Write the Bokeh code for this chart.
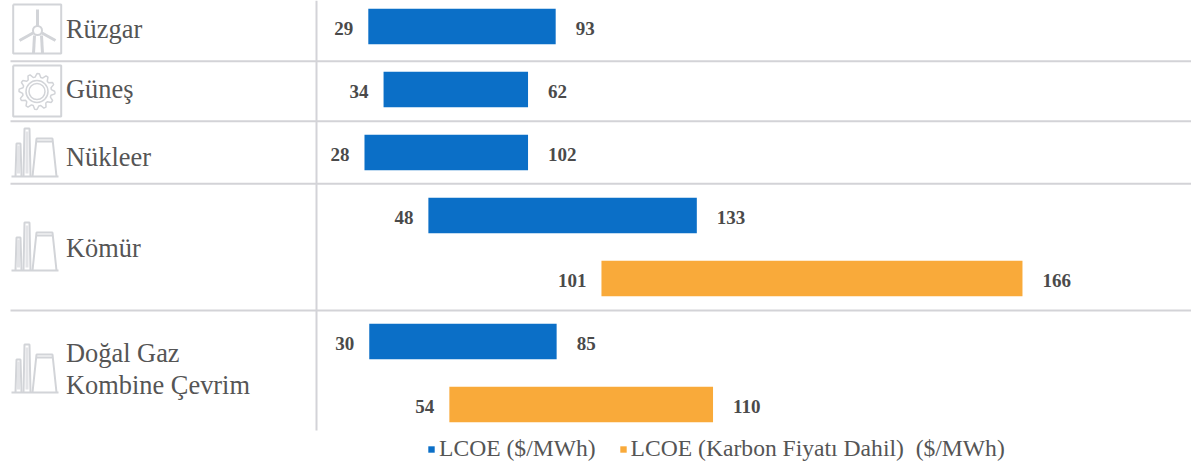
from bokeh.embed import file_html
from bokeh.resources import INLINE
from bokeh.plotting import figure
from bokeh.models import ColumnDataSource, Range1d, Legend, LegendItem
from bokeh.core.properties import value
import numpy as np

# Value labels printed on the chart
row_pos = [0, 1, 2, 3, 4, 5, 6]
low_labels = ["29", "34", "28", "48", "101", "30", "54"]
high_labels = ["93", "62", "102", "133", "166", "85", "110"]
# Bar extents as drawn in the picture (the drawn bars do not follow the labels linearly)
drawn_start = [28.8, 32.0, 28.0, 41.4, 77.7, 29.0, 45.8]
drawn_end = [68.1, 62.3, 62.3, 97.7, 166.0, 68.3, 101.1]
series = ["blue", "blue", "blue", "blue", "orange", "blue", "orange"]

categories = ["Rüzgar", "Güneş", "Nükleer", "Kömür", "Doğal Gaz", "Kombine Çevrim"]
legend_labels = ["LCOE ($/MWh)", "LCOE (Karbon Fiyatı Dahil)\u00a0\u00a0($/MWh)"]

BLUE = "#0b6fc7"
ORANGE = "#f9aa3a"
GREY = "#d2d4d8"
W, H = 1191, 467

p = figure(width=W, height=H, output_backend="svg", toolbar_location=None,
           x_range=Range1d(-48.34, 201.45), y_range=Range1d(7.0, -0.4127),
           min_border=0, min_border_left=0, min_border_right=0, min_border_top=0, min_border_bottom=0,
           outline_line_color=None, background_fill_color="white")
p.axis.visible = False
p.grid.visible = False
p.extra_x_ranges = {"px": Range1d(0, W)}
p.extra_y_ranges = {"px": Range1d(H, 0)}
PX = dict(x_range_name="px", y_range_name="px")

# separators and divider
p.segment(x0=[10, 10, 10, 10], x1=[W] * 4, y0=[60.7, 120.7, 183.3, 310], y1=[60.7, 120.7, 183.3, 310],
          line_color="#d3d3d7", line_width=2, **PX)
p.segment(x0=[316], x1=[316], y0=[0], y1=[430], line_color="#d3d3d8", line_width=2, **PX)

# bars
src = ColumnDataSource(dict(y=row_pos, s=drawn_start, e=drawn_end, low=low_labels, high=high_labels, series=series))
blue_idx = [i for i, c in enumerate(series) if c == "blue"]
org_idx = [i for i, c in enumerate(series) if c == "orange"]
def sub(idx):
    return ColumnDataSource({k: [v[i] for i in idx] for k, v in src.data.items()})
r_b = p.hbar(y="y", left="s", right="e", height=0.56, source=sub(blue_idx), fill_color=BLUE, line_color=None)
r_o = p.hbar(y="y", left="s", right="e", height=0.56, source=sub(org_idx), fill_color=ORANGE, line_color=None)

# value labels
font = value("Liberation Serif")
p.text(x="s", y="y", text="low", source=src, x_offset=-15, y_offset=2, text_align="right", text_baseline="middle",
       text_font=font, text_font_size="19px", text_font_style="bold", text_color="#4a4a4a")
p.text(x="e", y="y", text="high", source=src, x_offset=20, y_offset=2, text_align="left", text_baseline="middle",
       text_font=font, text_font_size="19px", text_font_style="bold", text_color="#4a4a4a")

# category labels
p.text(x=[65.5] * 6, y=[28, 88, 156, 247, 352, 384], text=categories, text_align="left", text_baseline="middle",
       text_font=font, text_font_size="26.4px", text_color="#555555", **PX)

# icons (decorative, pixel space)
ICON = dict(line_color=GREY, line_width=2, **PX)
p.multi_line(xs=[[12.7, 60.7, 60.7, 12.7, 12.7], [12.7, 60.7, 60.7, 12.7, 12.7]],
             ys=[[4, 4, 53, 53, 4], [65, 65, 116, 116, 65]], **ICON)
# wind turbine
p.multi_line(xs=[[37, 37], [37, 19], [37, 55], [34, 33], [41, 42]],
             ys=[[27, 9], [30, 40], [30, 40], [35, 53], [35, 53]], line_color=GREY, line_width=3, **PX)
p.scatter(x=[37], y=[30], size=9, fill_color="white", line_color=GREY, line_width=2, **PX)
# gear
ang = np.linspace(0, 2 * np.pi, 49)
rad = np.where(np.arange(49) % 4 < 2, 18, 14.5)
p.line(36.5 + rad * np.cos(ang), 91 + rad * np.sin(ang), line_color=GREY, line_width=1.5, **PX)
p.scatter(x=[36.5, 36.5], y=[91, 91], size=[22, 16], fill_color=None, line_color=GREY, line_width=1.5, **PX)
# power plants
for base in [176, 270, 392]:
    top = base - 48
    p.multi_line(xs=[[11, 58], [15, 16, 20, 21], [23, 24, 29, 30], [32, 36, 52, 56], [36, 52]],
                 ys=[[base, base], [base, top + 15, top + 15, base], [base, top, top, base],
                     [base, top + 10, top + 10, base], [top + 13, top + 13]], **ICON)
    p.segment(x0=[18, 26.5], x1=[18, 26.5], y0=[base - 3, base - 3], y1=[top + 17, top + 3],
              line_color="#e3e4e7", line_width=3, **PX)

legend = Legend(items=[LegendItem(label=legend_labels[0], renderers=[r_b]),
                       LegendItem(label=legend_labels[1], renderers=[r_o])],
                orientation="horizontal", location=(427, 5), margin=0, padding=0, spacing=23,
                glyph_width=8, glyph_height=8, label_standoff=4, border_line_color=None,
                background_fill_alpha=0, label_text_font="Liberation Serif", label_text_font_size="23.6px",
                label_text_color="#555555", label_height=20)
p.add_layout(legend, "center")

open("out.html", "w").write(file_html(p, INLINE))
